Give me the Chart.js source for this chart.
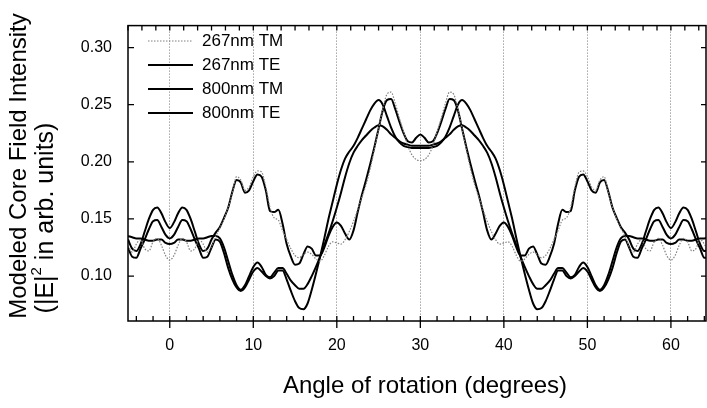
<!DOCTYPE html>
<html>
<head>
<meta charset="utf-8">
<title>Core field intensity</title>
<script src="https://cdn.jsdelivr.net/npm/chart.js@4.4.1/dist/chart.umd.min.js"></script>
<style>
  html, body { margin: 0; padding: 0; background: #fff; overflow: hidden; }
  canvas { display: block; }
</style>
</head>
<body>
<canvas id="myChart" width="707" height="408"></canvas>
<script>
// angle of rotation (degrees)
var angles = [
  -5, -4.5, -4, -3.5, -3, -2.5, -2, -1.5, -1, -0.5,
  0, 0.5, 1, 1.5, 2, 2.5, 3, 3.5, 4, 4.5, 5, 5.5, 6, 6.5, 7, 7.5, 8, 8.5, 9, 9.5,
  10, 10.5, 11, 11.5, 12, 12.5, 13, 13.5, 14, 14.5, 15, 15.5, 16, 16.5, 17, 17.5, 18, 18.5, 19, 19.5,
  20, 20.5, 21, 21.5, 22, 22.5, 23, 23.5, 24, 24.5, 25, 25.5, 26, 26.5, 27, 27.5, 28, 28.5, 29, 29.5,
  30, 30.5, 31, 31.5, 32, 32.5, 33, 33.5, 34, 34.5, 35, 35.5, 36, 36.5, 37, 37.5, 38, 38.5, 39, 39.5,
  40, 40.5, 41, 41.5, 42, 42.5, 43, 43.5, 44, 44.5, 45, 45.5, 46, 46.5, 47, 47.5, 48, 48.5, 49, 49.5,
  50, 50.5, 51, 51.5, 52, 52.5, 53, 53.5, 54, 54.5, 55, 55.5, 56, 56.5, 57, 57.5, 58, 58.5, 59, 59.5,
  60, 60.5, 61, 61.5, 62, 62.5, 63, 63.5, 64, 64.5, 65
];

var tm267 = [
  0.126, 0.121, 0.128, 0.132, 0.124, 0.122, 0.130, 0.133, 0.127, 0.118,
  0.114, 0.118, 0.127, 0.133, 0.130, 0.122, 0.124, 0.132, 0.128, 0.121,
  0.126, 0.135, 0.142, 0.150, 0.160, 0.173, 0.187, 0.184, 0.175, 0.178,
  0.187, 0.192, 0.191, 0.178, 0.160, 0.151, 0.149, 0.140, 0.132, 0.124,
  0.118, 0.116, 0.119, 0.121, 0.119, 0.115, 0.113, 0.118, 0.126, 0.130,
  0.129, 0.128, 0.132, 0.139, 0.148, 0.158, 0.169, 0.180, 0.194, 0.211,
  0.229, 0.246, 0.259, 0.261, 0.251, 0.238, 0.226, 0.214, 0.206, 0.202,
  0.201,
  0.202, 0.206, 0.214, 0.226, 0.238, 0.251, 0.261, 0.259, 0.246, 0.229,
  0.211, 0.194, 0.180, 0.169, 0.158, 0.148, 0.139, 0.132, 0.128, 0.129,
  0.130, 0.126, 0.118, 0.113, 0.115, 0.119, 0.121, 0.119, 0.116, 0.118,
  0.124, 0.132, 0.140, 0.149, 0.151, 0.160, 0.178, 0.191, 0.192, 0.187,
  0.178, 0.175, 0.184, 0.187, 0.173, 0.160, 0.150, 0.142, 0.135, 0.126,
  0.121, 0.128, 0.132, 0.124, 0.122, 0.130, 0.133, 0.127, 0.118, 0.114,
  0.118, 0.127, 0.133, 0.130, 0.122, 0.124, 0.132, 0.128, 0.121, 0.126
];

var te267 = [
  0.132, 0.124, 0.122, 0.128, 0.139, 0.150, 0.158, 0.160, 0.155, 0.147,
  0.142, 0.147, 0.155, 0.160, 0.158, 0.150, 0.139, 0.128, 0.122, 0.124,
  0.132, 0.138, 0.143, 0.151, 0.160, 0.174, 0.184, 0.182, 0.173, 0.175,
  0.183, 0.189, 0.187, 0.175, 0.157, 0.156, 0.158, 0.146, 0.128, 0.117,
  0.110, 0.111, 0.119, 0.126, 0.124, 0.118, 0.118, 0.125, 0.135, 0.143,
  0.147, 0.144, 0.137, 0.132, 0.140, 0.156, 0.171, 0.184, 0.198, 0.213,
  0.229, 0.245, 0.254, 0.255, 0.246, 0.235, 0.225, 0.218, 0.217, 0.221,
  0.224,
  0.221, 0.217, 0.218, 0.225, 0.235, 0.246, 0.255, 0.254, 0.245, 0.229,
  0.213, 0.198, 0.184, 0.171, 0.156, 0.140, 0.132, 0.137, 0.144, 0.147,
  0.143, 0.135, 0.125, 0.118, 0.118, 0.124, 0.126, 0.119, 0.111, 0.110,
  0.117, 0.128, 0.146, 0.158, 0.156, 0.157, 0.175, 0.187, 0.189, 0.183,
  0.175, 0.173, 0.182, 0.184, 0.174, 0.160, 0.151, 0.143, 0.138, 0.132,
  0.124, 0.122, 0.128, 0.139, 0.150, 0.158, 0.160, 0.155, 0.147, 0.142,
  0.147, 0.155, 0.160, 0.158, 0.150, 0.139, 0.128, 0.122, 0.124, 0.132
];

var tm800 = [
  0.135, 0.134, 0.133, 0.133, 0.132, 0.131, 0.131, 0.132, 0.132, 0.129,
  0.128, 0.129, 0.132, 0.132, 0.131, 0.131, 0.132, 0.133, 0.133, 0.134,
  0.135, 0.135, 0.133, 0.125, 0.113, 0.101, 0.092, 0.088, 0.092, 0.100,
  0.108, 0.112, 0.108, 0.101, 0.099, 0.103, 0.107, 0.107, 0.102, 0.096,
  0.092, 0.089, 0.089, 0.093, 0.100, 0.108, 0.117, 0.127, 0.137, 0.148,
  0.160, 0.173, 0.187, 0.199, 0.208, 0.214, 0.219, 0.223, 0.227, 0.230,
  0.232, 0.231, 0.228, 0.224, 0.221, 0.218, 0.216, 0.215, 0.214, 0.214,
  0.214,
  0.214, 0.214, 0.215, 0.216, 0.218, 0.221, 0.224, 0.228, 0.231, 0.232,
  0.230, 0.227, 0.223, 0.219, 0.214, 0.208, 0.199, 0.187, 0.173, 0.160,
  0.148, 0.137, 0.127, 0.117, 0.108, 0.100, 0.093, 0.089, 0.089, 0.092,
  0.096, 0.102, 0.107, 0.107, 0.103, 0.099, 0.101, 0.108, 0.112, 0.108,
  0.100, 0.092, 0.088, 0.092, 0.101, 0.113, 0.125, 0.133, 0.135, 0.135,
  0.134, 0.133, 0.133, 0.132, 0.131, 0.131, 0.132, 0.132, 0.129, 0.128,
  0.129, 0.132, 0.132, 0.131, 0.131, 0.132, 0.133, 0.133, 0.134, 0.135
];

var te800 = [
  0.125, 0.117, 0.116, 0.124, 0.132, 0.141, 0.148, 0.149, 0.143, 0.136,
  0.133, 0.136, 0.143, 0.149, 0.148, 0.141, 0.132, 0.124, 0.116, 0.117,
  0.125, 0.132, 0.130, 0.120, 0.107, 0.097, 0.090, 0.087, 0.090, 0.097,
  0.104, 0.107, 0.104, 0.100, 0.098, 0.100, 0.105, 0.105, 0.097, 0.087,
  0.078, 0.072, 0.071, 0.076, 0.088, 0.102, 0.117, 0.133, 0.150, 0.165,
  0.180, 0.193, 0.203, 0.209, 0.214, 0.221, 0.229, 0.237, 0.245, 0.251,
  0.254, 0.250, 0.240, 0.230, 0.222, 0.217, 0.214, 0.213, 0.212, 0.212,
  0.212,
  0.212, 0.212, 0.213, 0.214, 0.217, 0.222, 0.230, 0.240, 0.250, 0.254,
  0.251, 0.245, 0.237, 0.229, 0.221, 0.214, 0.209, 0.203, 0.193, 0.180,
  0.165, 0.150, 0.133, 0.117, 0.102, 0.088, 0.076, 0.071, 0.072, 0.078,
  0.087, 0.097, 0.105, 0.105, 0.100, 0.098, 0.100, 0.104, 0.107, 0.104,
  0.097, 0.090, 0.087, 0.090, 0.097, 0.107, 0.120, 0.130, 0.132, 0.125,
  0.117, 0.116, 0.124, 0.132, 0.141, 0.148, 0.149, 0.143, 0.136, 0.133,
  0.136, 0.143, 0.149, 0.148, 0.141, 0.132, 0.124, 0.116, 0.117, 0.125
];

var seriesNames = ['267nm TM', '267nm TE', '800nm TM', '800nm TE'];
var yTicks = [0.10, 0.15, 0.20, 0.25, 0.30];

var FONT = "'Liberation Sans', Arial, sans-serif";

function pts(vals) {
  return vals.map(function (v, i) { return { x: angles[i], y: v }; });
}

function lineSet(label, vals, color, width, dash) {
  return {
    label: label,
    data: pts(vals),
    borderColor: color,
    backgroundColor: color,
    borderWidth: width,
    borderDash: dash,
    pointRadius: 0,
    fill: false,
    cubicInterpolationMode: 'monotone'
  };
}

// rotated text run, parts may be raised and smaller (superscript)
function drawRun(ctx, parts, cx, cy) {
  ctx.save();
  ctx.translate(cx, cy);
  ctx.rotate(-Math.PI / 2);
  ctx.textAlign = 'left';
  ctx.textBaseline = 'middle';
  var total = 0;
  parts.forEach(function (p) {
    ctx.font = p.size + 'px ' + FONT;
    total += ctx.measureText(p.text).width;
  });
  var x = -total / 2;
  parts.forEach(function (p) {
    ctx.font = p.size + 'px ' + FONT;
    ctx.fillText(p.text, x, p.dy || 0);
    x += ctx.measureText(p.text).width;
  });
  ctx.restore();
}

// frame, tick marks, legend and axis titles
var decorations = {
  id: 'decorations',
  afterDraw: function (chart) {
    var ctx = chart.ctx;
    var a = chart.chartArea;
    var xs = chart.scales.x;
    var ys = chart.scales.y;
    ctx.save();
    ctx.strokeStyle = '#000';
    ctx.lineWidth = 1.5;
    ctx.strokeRect(a.left, a.top, a.right - a.left, a.bottom - a.top);

    ctx.lineWidth = 1.3;
    ctx.beginPath();
    // bottom: minor ticks inside every 2 deg, major ticks outside every 10
    for (var d = -4; d <= 64; d += 2) {
      var px = xs.getPixelForValue(d);
      ctx.moveTo(px, a.bottom);
      ctx.lineTo(px, a.bottom - 5);
    }
    for (var m = 0; m <= 60; m += 10) {
      var mx = xs.getPixelForValue(m);
      ctx.moveTo(mx, a.bottom);
      ctx.lineTo(mx, a.bottom + 7);
    }
    // top axis ticks
    for (var k = -3; k <= 39; k++) {
      var tx = xs.getPixelForValue(k * 5 / 3);
      if (tx < a.left || tx > a.right) continue;
      ctx.moveTo(tx, a.top);
      ctx.lineTo(tx, a.top + 5);
    }
    // left and right ticks
    yTicks.forEach(function (v) {
      var py = ys.getPixelForValue(v);
      ctx.moveTo(a.left, py);
      ctx.lineTo(a.left + 6, py);
      ctx.moveTo(a.right, py);
      ctx.lineTo(a.right - 5, py);
    });
    ctx.stroke();

    // legend
    ctx.font = '17px ' + FONT;
    ctx.textBaseline = 'middle';
    ctx.textAlign = 'left';
    chart.data.datasets.forEach(function (ds, i) {
      var ly = 41 + i * 24;
      ctx.beginPath();
      ctx.strokeStyle = ds.borderColor;
      ctx.lineWidth = ds.borderWidth;
      ctx.setLineDash(ds.borderDash || []);
      ctx.moveTo(148, ly);
      ctx.lineTo(193, ly);
      ctx.stroke();
      ctx.setLineDash([]);
      ctx.fillStyle = '#000';
      ctx.fillText(ds.label, 202, ly);
    });

    // axis titles
    ctx.fillStyle = '#000';
    ctx.textAlign = 'center';
    ctx.textBaseline = 'middle';
    ctx.font = '24px ' + FONT;
    ctx.fillText('Angle of rotation (degrees)', 425, 386);

    drawRun(ctx, [{ text: 'Modeled Core Field Intensity', size: 24 }], 19, 166);
    drawRun(ctx, [
      { text: '(|E|', size: 25 },
      { text: '2', size: 15, dy: -9 },
      { text: ' in arb. units)', size: 25 }
    ], 46, 218);
    ctx.restore();
  }
};

var ctx = document.getElementById('myChart').getContext('2d');
var myChart = new Chart(ctx, {
  type: 'line',
  data: {
    datasets: [
      lineSet(seriesNames[0], tm267, '#808080', 1.2, [1.5, 1.5]),
      lineSet(seriesNames[1], te267, '#000', 2, []),
      lineSet(seriesNames[2], tm800, '#000', 2, []),
      lineSet(seriesNames[3], te800, '#000', 2, [])
    ]
  },
  options: {
    responsive: false,
    animation: false,
    devicePixelRatio: 1,
    layout: { padding: { top: 12, right: 1, left: 0, bottom: 0 } },
    plugins: {
      legend: { display: false },
      tooltip: { enabled: false }
    },
    scales: {
      x: {
        type: 'linear',
        min: -5,
        max: 64.2,
        afterFit: function (s) { s.height = 87; },
        ticks: {
          stepSize: 10,
          includeBounds: false,
          padding: 15,
          maxRotation: 0,
          color: '#000',
          font: { family: FONT, size: 16 }
        },
        grid: {
          color: '#777',
          lineWidth: 1,
          drawTicks: false
        },
        border: { display: false, dash: [1, 2] }
      },
      y: {
        min: 0.0607,
        max: 0.3192,
        afterFit: function (s) { s.width = 128; },
        ticks: {
          stepSize: 0.05,
          includeBounds: false,
          padding: 16,
          color: '#000',
          font: { family: FONT, size: 16 },
          callback: function (v) { return v.toFixed(2); }
        },
        grid: { display: false, drawTicks: false },
        border: { display: false }
      }
    }
  },
  plugins: [decorations]
});
</script>
</body>
</html>
